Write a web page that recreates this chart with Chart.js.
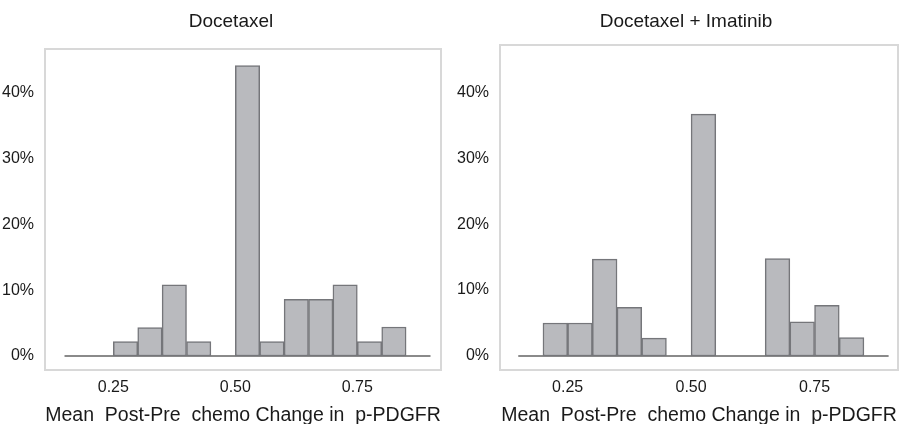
<!DOCTYPE html>
<html>
<head>
<meta charset="utf-8">
<script src="https://cdn.jsdelivr.net/npm/chart.js@4/dist/chart.umd.min.js"></script>
<style>
  body { margin: 0; background: #fff; }
  #wrap { position: relative; width: 901px; height: 424px; overflow: hidden; }
  .panel { position: absolute; top: 0; height: 424px; }
  .title { position: absolute; top: 10px; line-height: 24px; font: 19px "Liberation Sans", Arial, sans-serif; color: #1a1a1a; white-space: nowrap; transform: translateX(-50%); }
</style>
</head>
<body>
<div id="wrap">
  <div class="panel" style="left:0;width:446px"><canvas id="c1"></canvas></div>
  <div class="panel" style="left:455px;width:446px"><canvas id="c2"></canvas></div>
  <div class="title" style="left:231px">Docetaxel</div>
  <div class="title" style="left:686px">Docetaxel + Imatinib</div>
</div>
<script>
// bin centres (bin width 0.05) and percent of patients per bin
var docBins = [0.275, 0.325, 0.375, 0.425, 0.475, 0.525, 0.575, 0.625, 0.675, 0.725, 0.775, 0.825];
var docPct  = [2.2, 4.3, 10.8, 2.2, 0, 44.1, 2.2, 8.6, 8.6, 10.8, 2.2, 4.4];

var imaBins = [0.225, 0.275, 0.325, 0.375, 0.425, 0.475, 0.525, 0.575, 0.625, 0.675, 0.725, 0.775, 0.825];
var imaPct  = [5.0, 5.0, 14.7, 7.4, 2.7, 0, 36.7, 0, 0, 14.8, 5.2, 7.7, 2.8];

var xTicks = [0.25, 0.50, 0.75];
var yTicks = [0, 10, 20, 30, 40];
var baseLine = [0.15, 0.90];   // extent of the zero line
var xTitle = "Mean  Post-Pre  chemo Change in  p-PDGFR";

var FONT = '"Liberation Sans", Arial, sans-serif';

// light frame round the plot area
var framePlugin = {
    id: 'frame',
    beforeDraw: function(chart) {
        var a = chart.chartArea, ctx = chart.ctx;
        ctx.save();
        ctx.strokeStyle = '#d8d8d8';
        ctx.lineWidth = 2;
        ctx.strokeRect(a.left, a.top, a.right - a.left, a.bottom - a.top);
        ctx.restore();
    }
};

function makeChart(id, bins, pct, xmin, xmax, ymax, padTop, padRight) {
    var bars = bins.map(function(b, i) { return {x: b, y: pct[i]}; });
    var line = baseLine.map(function(b) { return {x: b, y: 0}; });
    return new Chart(document.getElementById(id), {
        type: 'bar',
        data: {
            datasets: [{
                type: 'line',
                data: line,
                borderColor: '#8a8a8a',
                borderWidth: 2,
                pointRadius: 0,
                order: 2
            }, {
                data: bars,
                backgroundColor: '#b9babe',
                borderColor: '#75767a',
                borderWidth: 1.5,
                borderSkipped: false,
                barPercentage: 1,
                categoryPercentage: 1,
                order: 1
            }]
        },
        options: {
            responsive: true,
            maintainAspectRatio: false,
            animation: false,
            layout: { padding: { top: padTop, right: padRight, left: 0, bottom: 0 } },
            plugins: { legend: { display: false }, tooltip: { enabled: false } },
            scales: {
                x: {
                    type: 'linear',
                    min: xmin, max: xmax,
                    offset: false,
                    grid: { display: false },
                    border: { display: false },
                    afterBuildTicks: function(s) { s.ticks = xTicks.map(function(v) { return {value: v}; }); },
                    afterFit: function(s) { s.height = 54; },
                    ticks: {
                        padding: 0,
                        color: '#1a1a1a',
                        font: { family: FONT, size: 16 },
                        callback: function(v) { return Number(v).toFixed(2); }
                    },
                    title: {
                        display: true,
                        text: xTitle,
                        color: '#1a1a1a',
                        font: { family: FONT, size: 19.5, lineHeight: 0.85 },
                        padding: { top: 0, bottom: 0 }
                    }
                },
                y: {
                    min: -2.13, max: ymax,
                    grid: { display: false },
                    border: { display: false },
                    afterBuildTicks: function(s) { s.ticks = yTicks.map(function(v) { return {value: v}; }); },
                    afterFit: function(s) { s.width = 45; },
                    ticks: {
                        padding: 3,
                        color: '#1a1a1a',
                        font: { family: FONT, size: 16 },
                        callback: function(v) { return v + '%'; }
                    }
                }
            }
        },
        plugins: [framePlugin]
    });
}

makeChart('c1', docBins, docPct, 0.110, 0.9215, 46.6, 49, 5);
makeChart('c2', imaBins, imaPct, 0.113, 0.919, 47.2, 45, 3);
</script>
</body>
</html>
